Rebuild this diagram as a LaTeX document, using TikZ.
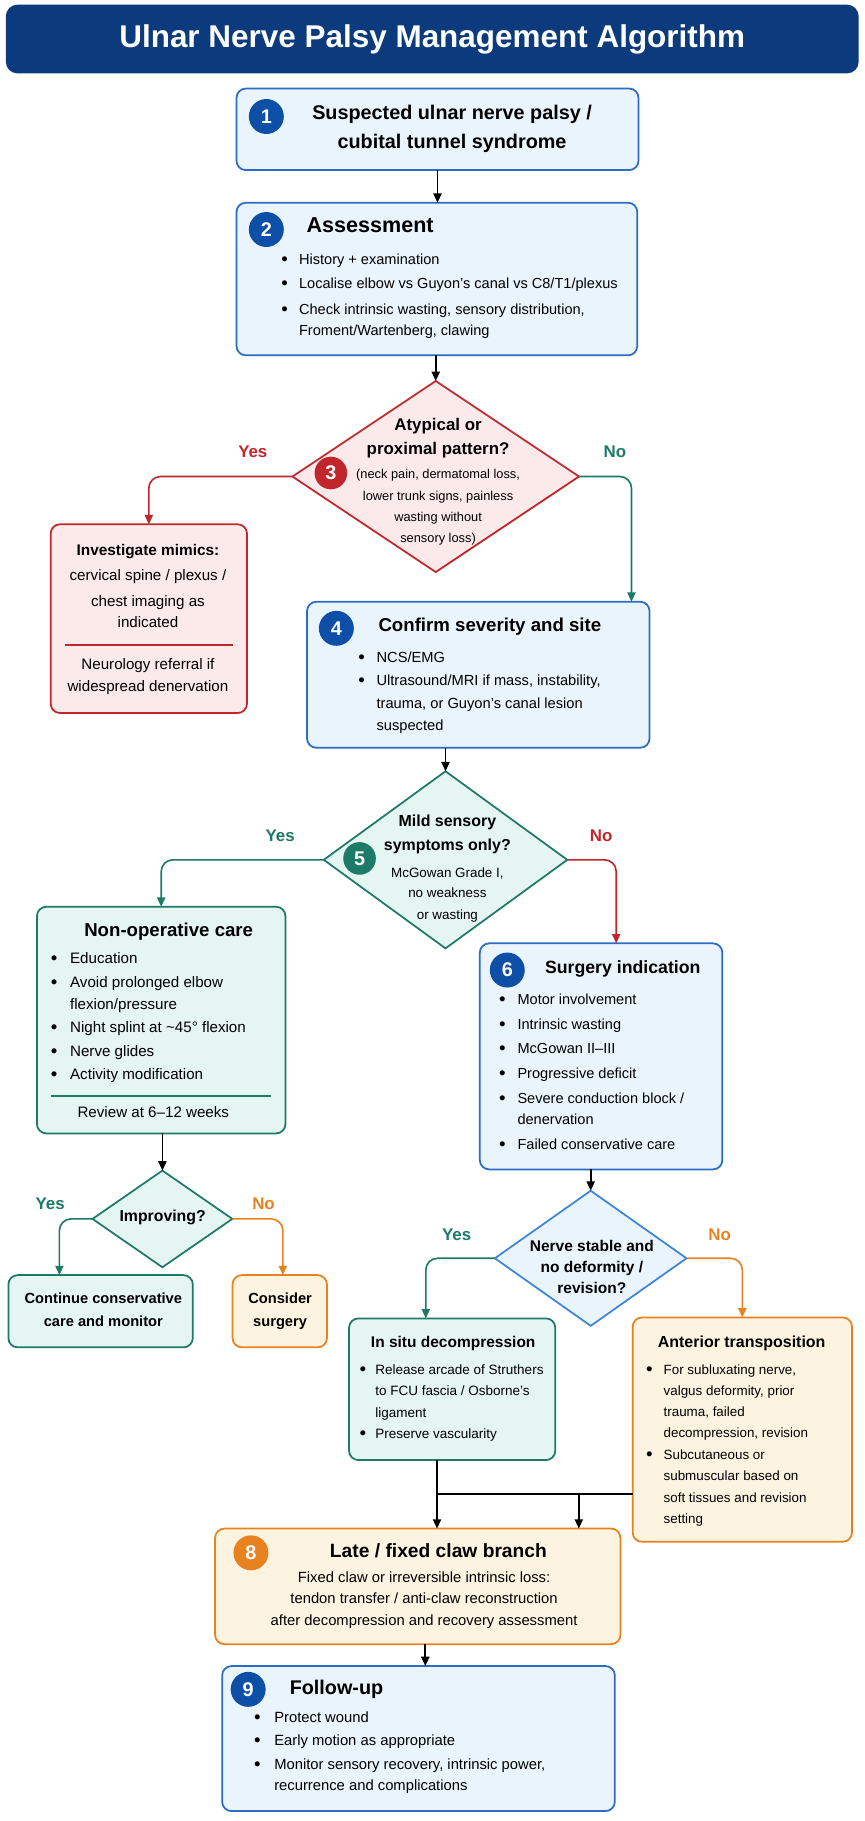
\documentclass[tikz,border=0pt]{standalone}
\usepackage{fontspec}
\setmainfont{Liberation Sans}
\usetikzlibrary{arrows.meta,shapes.geometric,calc}
\definecolor{navy}{HTML}{0B3B7C}
\definecolor{bbord}{HTML}{2C6CC4}
\definecolor{bfill}{HTML}{EAF4FC}
\definecolor{bbadge}{HTML}{0D4EA6}
\definecolor{rbord}{HTML}{C0272D}
\definecolor{rfill}{HTML}{FCEAEA}
\definecolor{tbord}{HTML}{1D7A66}
\definecolor{tfill}{HTML}{E5F5F2}
\definecolor{obord}{HTML}{E8821E}
\definecolor{ofill}{HTML}{FDF3E1}
\definecolor{lbord}{HTML}{3D85D8}
\newcommand\fsz[1]{\fontsize{#1}{#1}\selectfont}
\newlength\bgap
\newcommand\bitem[1]{\setlength\bgap{#1}\addtolength\bgap{-0.8pt}\llap{\raisebox{-0.8pt}{\fsz{16}\textbullet}\hspace{\bgap}}}
\tikzset{
  box/.style={draw, rounded corners=8pt, line width=1.5pt, inner sep=0pt, outer sep=0pt},
  bluebox/.style={box, draw=bbord, fill=bfill},
  redbox/.style={box, draw=rbord, fill=rfill},
  tealbox/.style={box, draw=tbord, fill=tfill},
  orbox/.style={box, draw=obord, fill=ofill},
  dia/.style={diamond, draw, line width=1.5pt, inner sep=0pt, outer sep=0pt},
  badge/.style={circle, inner sep=0pt, minimum size=30pt, text=white, font=\bfseries\fsz{17}},
  arr/.style={line width=1.4pt, -{Triangle[length=8pt,width=7pt]}},
  rc/.style={rounded corners=10pt},
  tc/.style={inner sep=0pt, anchor=mid},
  tw/.style={inner sep=0pt, anchor=mid west},
  yn/.style={inner sep=0pt, anchor=mid, font=\bfseries\fsz{14.5}},
}
\begin{document}
\begin{tikzpicture}[x=1pt,y=-1pt]
\useasboundingbox (0,0) rectangle (742,1563);
\fill[white] (0,0) rectangle (742,1563);

% title
\node[fill=navy, rounded corners=10pt, minimum width=732pt, minimum height=59pt, inner sep=0pt, text=white, font=\bfseries\fsz{27}] (title) at (371,33.5) {Ulnar Nerve Palsy Management Algorithm};

% box 1
\node[bluebox, minimum width=345pt, minimum height=70pt] (b1) at (375.5,111) {};
\node[badge, fill=bbadge] (g1) at (228.6,100) {1};
\node[tc, font=\bfseries\fsz{17}] (t1a) at (388,100) {Suspected ulnar nerve palsy /};
\node[tc, font=\bfseries\fsz{17}] (t1b) at (388,124.5) {cubital tunnel syndrome};

% box 2
\node[bluebox, minimum width=344pt, minimum height=131pt] (b2) at (375,239.5) {};
\node[badge, fill=bbadge] (g2) at (228.6,197) {2};
\node[tw, font=\bfseries\fsz{18.5}] (t2) at (263,197) {Assessment};
\begin{scope}[every node/.style={tw, font=\fsz{12.5}}]
\node (t2a) at (256.5,224.6) {\bitem{10.3pt}History + examination};
\node (t2b) at (256.5,245.2) {\bitem{10.3pt}Localise elbow vs Guyon’s canal vs C8/T1/plexus};
\node (t2c) at (256.5,267) {\bitem{10.3pt}Check intrinsic wasting, sensory distribution,};
\node (t2d) at (256.5,285.6) {Froment/Wartenberg, clawing};
\end{scope}

% diamond 3
\node[dia, draw=rbord, fill=rfill, minimum width=246pt, minimum height=164pt] (d3) at (374,409) {};
\node[badge, fill=rbord, minimum size=28pt] (g3) at (284,406) {3};
\node[tc, font=\bfseries\fsz{14.5}] (t3a) at (376,367) {Atypical or};
\node[tc, font=\bfseries\fsz{14.5}] (t3b) at (376,387.7) {proximal pattern?};
\begin{scope}[every node/.style={tc, font=\fsz{11}}]
\node (t3c) at (376,408) {(neck pain, dermatomal loss,};
\node (t3d) at (376,427) {lower trunk signs, painless};
\node (t3e) at (376,445) {wasting without};
\node (t3f) at (376,462.7) {sensory loss)};
\end{scope}
\node[yn, text=rbord] (y3) at (217,390) {Yes};
\node[yn, text=tbord] (n3) at (527.7,390) {No};

% mimics box
\node[redbox, minimum width=168.5pt, minimum height=162pt] (b3r) at (127.75,531) {};
\node[tc, font=\bfseries\fsz{13.2}] (tm1) at (127,473.8) {Investigate mimics:};
\begin{scope}[every node/.style={tc, font=\fsz{13}}]
\node (tm2) at (127,496) {cervical spine / plexus /};
\node (tm3) at (127,518) {chest imaging as};
\node (tm4) at (127,535.8) {indicated};
\node (tm5) at (127,572) {Neurology referral if};
\node (tm6) at (127,591) {widespread denervation};
\end{scope}
\draw[rbord, line width=1.5pt] (56,553.6) -- (200,553.6);

% box 4
\node[bluebox, minimum width=294pt, minimum height=125.3pt] (b4) at (410.5,579.15) {};
\node[badge, fill=bbadge] (g4) at (288.7,539.3) {4};
\node[tw, font=\bfseries\fsz{16}] (t4) at (324.7,539.3) {Confirm severity and site};
\begin{scope}[every node/.style={tw, font=\fsz{12.6}}]
\node (t4a) at (323,565.7) {\bitem{10.8pt}NCS/EMG};
\node (t4b) at (323,586) {\bitem{10.8pt}Ultrasound/MRI if mass, instability,};
\node (t4c) at (323,605.7) {trauma, or Guyon’s canal lesion};
\node (t4d) at (323,624.3) {suspected};
\end{scope}

% diamond 5
\node[dia, draw=tbord, fill=tfill, minimum width=209pt, minimum height=152pt] (d5) at (382.4,738) {};
\node[badge, fill=tbord, minimum size=28pt] (g5) at (308.6,736.8) {5};
\node[tc, font=\bfseries\fsz{13.7}] (t5a) at (384,706.8) {Mild sensory};
\node[tc, font=\bfseries\fsz{13.7}] (t5b) at (384,727.3) {symptoms only?};
\begin{scope}[every node/.style={tc, font=\fsz{11.5}}]
\node (t5c) at (384,750.2) {McGowan Grade I,};
\node (t5d) at (384,767.4) {no weakness};
\node (t5e) at (384,786.3) {or wasting};
\end{scope}
\node[yn, text=tbord] (y5) at (240.4,719.6) {Yes};
\node[yn, text=rbord] (n5) at (516,719.6) {No};

% non-operative box
\node[tealbox, minimum width=213.3pt, minimum height=194.5pt] (bnon) at (138.35,875.55) {};
\node[tc, font=\bfseries\fsz{16}] (tn) at (144.8,801) {Non-operative care};
\begin{scope}[every node/.style={tw, font=\fsz{13}}]
\node (tna) at (60,824) {\bitem{11.8pt}Education};
\node (tnb) at (60,845) {\bitem{11.8pt}Avoid prolonged elbow};
\node (tnc) at (60,864) {flexion/pressure};
\node (tnd) at (60,883.3) {\bitem{11.8pt}Night splint at \textasciitilde45° flexion};
\node (tne) at (60,904) {\bitem{11.8pt}Nerve glides};
\node (tnf) at (60,924.2) {\bitem{11.8pt}Activity modification};
\end{scope}
\draw[tbord, line width=1.5pt] (43.5,940.5) -- (233,940.5);
\node[tc, font=\fsz{13}] (tng) at (131.6,956.5) {Review at 6–12 weeks};

% box 6
\node[bluebox, minimum width=208.2pt, minimum height=194pt] (b6) at (515.9,906.7) {};
\node[badge, fill=bbadge] (g6) at (435.4,832.6) {6};
\node[tw, font=\bfseries\fsz{15.2}] (t6) at (467.6,832.6) {Surgery indication};
\begin{scope}[every node/.style={tw, font=\fsz{12.5}}]
\node (t6a) at (444,859.8) {\bitem{11.1pt}Motor involvement};
\node (t6b) at (444,880.7) {\bitem{11.1pt}Intrinsic wasting};
\node (t6c) at (444,901.3) {\bitem{11.1pt}McGowan II–III};
\node (t6d) at (444,922.7) {\bitem{11.1pt}Progressive deficit};
\node (t6e) at (444,944.2) {\bitem{11.1pt}Severe conduction block /};
\node (t6f) at (444,962.8) {denervation};
\node (t6g) at (444,984.3) {\bitem{11.1pt}Failed conservative care};
\end{scope}

% diamond improving
\node[dia, draw=tbord, fill=tfill, minimum width=120pt, minimum height=83pt] (d7) at (139.4,1046.2) {};
\node[tc, font=\bfseries\fsz{13.6}] (t7) at (139.6,1046) {Improving?};
\node[yn, text=tbord] (y7) at (43,1035.3) {Yes};
\node[yn, text=obord] (n7) at (226.2,1035.3) {No};

\node[tealbox, minimum width=158.3pt, minimum height=62pt] (bcont) at (86.35,1125.45) {};
\node[tc, font=\bfseries\fsz{12.6}] (tca) at (88.7,1116) {Continue conservative};
\node[tc, font=\bfseries\fsz{12.6}] (tcb) at (88.7,1136) {care and monitor};
\node[orbox, minimum width=81pt, minimum height=62pt] (bcons) at (240.1,1125.45) {};
\node[tc, font=\bfseries\fsz{12.6}] (tsa) at (240.4,1116) {Consider};
\node[tc, font=\bfseries\fsz{12.6}] (tsb) at (240.4,1136) {surgery};

% diamond nerve stable
\node[dia, draw=lbord, fill=bfill, minimum width=164.5pt, minimum height=116pt] (d8) at (507,1080) {};
\begin{scope}[every node/.style={tc, font=\bfseries\fsz{13.3}}]
\node (t8a) at (508,1071.5) {Nerve stable and};
\node (t8b) at (508,1089.6) {no deformity /};
\node (t8c) at (508,1107.3) {revision?};
\end{scope}
\node[yn, text=tbord] (y8) at (392,1062.4) {Yes};
\node[yn, text=obord] (n8) at (617.7,1062.4) {No};

% in situ
\node[tealbox, minimum width=177pt, minimum height=121.6pt] (bsitu) at (388.1,1192.4) {};
\node[tc, font=\bfseries\fsz{13.3}] (tis) at (389,1154) {In situ decompression};
\begin{scope}[every node/.style={tw, font=\fsz{11.6}}]
\node (tisa) at (321.9,1177.4) {\bitem{8.7pt}Release arcade of Struthers};
\node (tisb) at (321.9,1195.4) {to FCU fascia / Osborne’s};
\node (tisc) at (321.9,1213.7) {ligament};
\node (tisd) at (321.9,1232.3) {\bitem{8.7pt}Preserve vascularity};
\end{scope}

% anterior transposition
\node[orbox, minimum width=188.3pt, minimum height=192.5pt] (bant) at (637.15,1227.05) {};
\node[tc, font=\bfseries\fsz{13.7}] (tat) at (636.6,1154) {Anterior transposition};
\begin{scope}[every node/.style={tw, font=\fsz{11.5}}]
\node (tata) at (569.4,1177.4) {\bitem{10.2pt}For subluxating nerve,};
\node (tatb) at (569.4,1195.4) {valgus deformity, prior};
\node (tatc) at (569.4,1213) {trauma, failed};
\node (tatd) at (569.4,1231.6) {decompression, revision};
\node (tate) at (569.4,1250.4) {\bitem{10.2pt}Subcutaneous or};
\node (tatf) at (569.4,1268.1) {submuscular based on};
\node (tatg) at (569.4,1286.7) {soft tissues and revision};
\node (tath) at (569.4,1305.3) {setting};
\end{scope}

% box 8
\node[orbox, minimum width=347.9pt, minimum height=99.2pt] (b8) at (358.55,1361.6) {};
\node[badge, fill=obord] (g8) at (215.4,1332.8) {8};
\node[tc, font=\bfseries\fsz{16.5}] (t8) at (376.3,1334.2) {Late / fixed claw branch};
\begin{scope}[every node/.style={tc, font=\fsz{12.7}}]
\node (t8l1) at (364,1355.4) {Fixed claw or irreversible intrinsic loss:};
\node (t8l2) at (364,1374) {tendon transfer / anti-claw reconstruction};
\node (t8l3) at (364,1392.9) {after decompression and recovery assessment};
\end{scope}

% box 9
\node[bluebox, minimum width=337pt, minimum height=124.5pt] (b9) at (359.2,1492.25) {};
\node[badge, fill=bbadge] (g9) at (213,1450) {9};
\node[tw, font=\bfseries\fsz{17}] (t9) at (248.5,1452) {Follow-up};
\begin{scope}[every node/.style={tw, font=\fsz{12.7}}]
\node (t9a) at (235.2,1475.5) {\bitem{12.5pt}Protect wound};
\node (t9b) at (235.2,1495.8) {\bitem{12.5pt}Early motion as appropriate};
\node (t9c) at (235.2,1516.5) {\bitem{12.5pt}Monitor sensory recovery, intrinsic power,};
\node (t9d) at (235.2,1534.2) {recurrence and complications};
\end{scope}

% connectors
\draw[arr] (b1.south) -- (b1.south |- b2.north);
\draw[arr] (b2.south -| d3.north) -- (d3.north);
\draw[arr, rbord, rc] (d3.west) -| (b3r.north);
\draw[arr, tbord, rc] (d3.east) -| ([xshift=-15.5pt]b4.north east);
\draw[arr] (b4.south -| d5.north) -- (d5.north);
\draw[arr, tbord, rc] (d5.west) -| (bnon.north);
\draw[arr, rbord, rc] (d5.east) -| ([xshift=13pt]b6.north);
\draw[arr] (bnon.south -| d7.north) -- (d7.north);
\draw[arr, tbord, rc] (d7.west) -| ([xshift=43.8pt]bcont.north west);
\draw[arr, obord, rc] (d7.east) -| ([xshift=2.7pt]bcons.north);
\draw[arr] (b6.south -| d8.north) -- (d8.north);
\draw[arr, tbord, rc] (d8.west) -| ([xshift=-22.6pt]bsitu.north);
\draw[arr, obord, rc] (d8.east) -| (bant.north);
\coordinate (m1) at (375.1,1282.5);
\coordinate (m2) at (496.8,1282.5);
\draw[line width=1.4pt] (m1 -| bant.west) -- (m1);
\draw[arr] (m1 |- bsitu.south) -- (m1 |- b8.north);
\draw[arr] (m2) -- (m2 |- b8.north);
\draw[arr] ([xshift=6.5pt]b8.south) -- ([xshift=6.5pt]b8.south |- b9.north);
\end{tikzpicture}
\end{document}
